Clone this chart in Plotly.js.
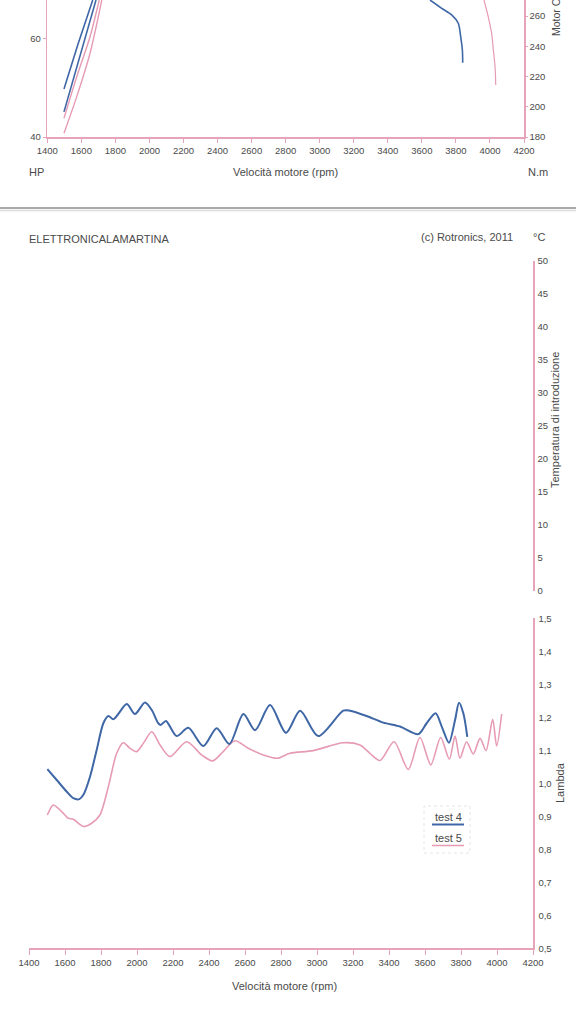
<!DOCTYPE html>
<html>
<head>
<meta charset="utf-8">
<script src="https://cdn.plot.ly/plotly-3.0.1.min.js"></script>
<style>html,body{margin:0;padding:0;background:#fff;}#chart{width:576px;height:1024px;}</style>
</head>
<body>
<div id="chart"></div>
<script>
// ---------- DATA ----------
// Top chart (power HP left axis, torque N.m right axis)
const rpmT4TorqueLow = [1498, 1582, 1667];
const t4TorqueLow = [211.8, 242.0, 270.7];
const rpmT4TorqueHigh = [3648, 3717, 3775, 3814, 3828, 3838, 3840];
const t4TorqueHigh = [270.7, 265.2, 260.8, 255.3, 246.4, 237.6, 229.2];
const rpmT4Power = [1498, 1592, 1686];
const t4Power = [45.1, 56.6, 67.8];

const rpmT5TorqueLow = [1498, 1573, 1651, 1705];
const t5TorqueLow = [192.4, 219.9, 246.4, 270.7];
const rpmT5TorqueHigh = [3965, 3990, 4010, 4020, 4030, 4034];
const t5TorqueHigh = [270.7, 259.6, 248.6, 237.6, 226.5, 214.4];
const rpmT5Power = [1498, 1573, 1651, 1720];
const t5Power = [40.75, 48.2, 57.0, 67.8];

// Bottom chart (lambda)
const rpmT4Lambda = [1502,1554,1609,1646,1680,1702,1739,1776,1813,1841,1868,1896,1943,1989,2044,2082,2118,2132,2161,2220,2285,2368,2443,2513,2591,2656,2739,2828,2906,3007,3146,3183,3276,3368,3461,3563,3609,3659,3693,3733,3767,3789,3813,3835];
const t4Lambda = [1.043,1.010,0.975,0.955,0.952,0.965,1.020,1.101,1.182,1.204,1.194,1.210,1.240,1.210,1.245,1.222,1.182,1.177,1.189,1.143,1.168,1.113,1.167,1.119,1.210,1.161,1.237,1.153,1.220,1.143,1.220,1.220,1.204,1.184,1.172,1.149,1.182,1.212,1.172,1.123,1.192,1.244,1.212,1.141];

const rpmT5Lambda = [1502,1535,1563,1591,1618,1646,1674,1702,1748,1794,1841,1887,1924,1961,1998,2035,2082,2128,2183,2276,2359,2420,2479,2544,2618,2702,2779,2850,2979,3146,3239,3294,3350,3428,3507,3572,3632,3687,3735,3767,3794,3831,3868,3906,3939,3976,3998,4026];
const t5Lambda = [0.904,0.934,0.924,0.909,0.894,0.891,0.879,0.869,0.879,0.904,0.990,1.091,1.123,1.106,1.096,1.121,1.156,1.116,1.081,1.126,1.086,1.068,1.096,1.129,1.106,1.086,1.076,1.091,1.099,1.123,1.116,1.091,1.069,1.126,1.042,1.139,1.056,1.139,1.073,1.143,1.076,1.126,1.089,1.136,1.099,1.194,1.113,1.210];

// Tick labels
const rpmTicks = [1400,1600,1800,2000,2200,2400,2600,2800,3000,3200,3400,3600,3800,4000,4200];
const hpTicks = [40, 60];
const nmTicks = [180, 200, 220, 240, 260];
const tempTicks = [0,5,10,15,20,25,30,35,40,45,50];
const lambdaTicks = [0.5,0.6,0.7,0.8,0.9,1.0,1.1,1.2,1.3,1.4,1.5];
const lambdaTickText = ["0,5","0,6","0,7","0,8","0,9","1,0","1,1","1,2","1,3","1,4","1,5"];
const seriesNames = ["test 4", "test 5"];

// ---------- STYLE ----------
const BLUE = '#3f67a6';
const PINK = '#e69bb3';
const AXIS = '#e7a3b7';
const TXT = '#4a4a4a';
const FONT = 'Liberation Sans, Arial, sans-serif';

function line(x, y, xa, ya, color, w, name, shape) {
  return {x: x, y: y, xaxis: xa, yaxis: ya, type: 'scatter', mode: 'lines', name: name,
          line: {color: color, width: w, shape: shape || 'spline', smoothing: 0.8}, hoverinfo: 'skip'};
}

const traces = [
  line(rpmT4Power, t4Power, 'x', 'y', BLUE, 1.6, seriesNames[0], 'linear'),
  line(rpmT4TorqueLow, t4TorqueLow, 'x', 'y2', BLUE, 1.6, seriesNames[0], 'linear'),
  line(rpmT4TorqueHigh, t4TorqueHigh, 'x', 'y2', BLUE, 1.6, seriesNames[0]),
  line(rpmT5Power, t5Power, 'x', 'y', PINK, 1.4, seriesNames[1]),
  line(rpmT5TorqueLow, t5TorqueLow, 'x', 'y2', PINK, 1.4, seriesNames[1]),
  line(rpmT5TorqueHigh, t5TorqueHigh, 'x', 'y2', PINK, 1.2, seriesNames[1]),
  line(rpmT5Lambda, t5Lambda, 'x2', 'y3', PINK, 1.6, seriesNames[1]),
  line(rpmT4Lambda, t4Lambda, 'x2', 'y3', BLUE, 2, seriesNames[0]),
  {x: [], y: [], xaxis: 'x2', yaxis: 'y4', type: 'scatter', mode: 'lines', showlegend: false}
];

const tickFont = {family: FONT, size: 9.5, color: TXT};
const baseAxis = {showgrid: false, zeroline: false, showline: true, linecolor: AXIS, linewidth: 1.5,
                  ticks: 'outside', ticklen: 4, tickcolor: AXIS, tickwidth: 1, tickfont: tickFont, fixedrange: true};

const py = p => 1 - p / 1024;
const px = p => p / 576;

const layout = {
  width: 576, height: 1024,
  margin: {l: 0, r: 0, t: 0, b: 0},
  paper_bgcolor: '#ffffff', plot_bgcolor: 'rgba(0,0,0,0)',
  showlegend: false,
  font: {family: FONT, color: TXT},
  xaxis: Object.assign({}, baseAxis, {domain: [px(47.3), px(524)], range: [1400, 4200], anchor: 'y',
         tickmode: 'array', tickvals: rpmTicks, ticktext: rpmTicks.map(String)}),
  yaxis: Object.assign({}, baseAxis, {domain: [py(137), 1], range: [40, 67.82], anchor: 'x', side: 'left',
         tickmode: 'array', tickvals: hpTicks, ticklen: 3}),
  yaxis2: Object.assign({}, baseAxis, {overlaying: 'y', range: [180, 270.7], anchor: 'x', side: 'right',
         tickmode: 'array', tickvals: nmTicks, ticklen: 2}),
  xaxis2: Object.assign({}, baseAxis, {domain: [px(29), px(533)], range: [1400, 4200], anchor: 'y3',
         tickmode: 'array', tickvals: rpmTicks, ticktext: rpmTicks.map(String), ticklen: 5}),
  yaxis3: Object.assign({}, baseAxis, {domain: [py(948.3), py(618.3)], range: [0.5, 1.5], anchor: 'x2', side: 'right',
         tickmode: 'array', tickvals: lambdaTicks, ticktext: lambdaTickText, ticks: '', ticklabelstandoff: 2}),
  yaxis4: Object.assign({}, baseAxis, {domain: [py(591), py(261)], range: [0, 50], anchor: 'x2', side: 'right',
         tickmode: 'array', tickvals: tempTicks, ticks: '', ticklabelstandoff: 1}),
  shapes: [
    {type: 'line', xref: 'paper', yref: 'paper', x0: 0, x1: 1, y0: py(208), y1: py(208), line: {color: '#a9a9a9', width: 2}},
    {type: 'line', xref: 'paper', yref: 'paper', x0: 0, x1: 1, y0: py(210.5), y1: py(210.5), line: {color: '#dcdcdc', width: 1.5}},
    {type: 'rect', xref: 'paper', yref: 'paper', x0: px(424), x1: px(470), y0: py(853), y1: py(806), line: {color: '#e4e4e4', width: 1, dash: 'dot'}},
    {type: 'line', xref: 'paper', yref: 'paper', x0: px(432), x1: px(464), y0: py(824.5), y1: py(824.5), line: {color: BLUE, width: 2}},
    {type: 'line', xref: 'paper', yref: 'paper', x0: px(432), x1: px(464), y0: py(845.5), y1: py(845.5), line: {color: PINK, width: 1.5}}
  ],
  annotations: [
    {text: 'HP', x: px(27), y: py(172), xanchor: 'left', yanchor: 'middle'},
    {text: 'Velocità motore (rpm)', x: px(285), y: py(172), xanchor: 'center', yanchor: 'middle'},
    {text: 'N.m', x: px(526), y: py(172), xanchor: 'left', yanchor: 'middle'},
    {text: 'Motor C', x: px(556), y: py(38), xanchor: 'center', yanchor: 'bottom', textangle: -90, font: {family: FONT, size: 10.5, color: TXT}},
    {text: 'ELETTRONICALAMARTINA', x: px(27), y: py(239), xanchor: 'left', yanchor: 'middle'},
    {text: '(c) Rotronics, 2011', x: px(515), y: py(237), xanchor: 'right', yanchor: 'middle'},
    {text: '°C', x: px(539), y: py(237), xanchor: 'center', yanchor: 'middle'},
    {text: 'Temperatura di introduzione', x: px(555), y: py(420), xanchor: 'center', yanchor: 'middle', textangle: -90},
    {text: 'Lambda', x: px(560), y: py(783), xanchor: 'center', yanchor: 'middle', textangle: -90},
    {text: 'Velocità motore (rpm)', x: px(284), y: py(986), xanchor: 'center', yanchor: 'middle'},
    {text: seriesNames[0], x: px(448), y: py(817), xanchor: 'center', yanchor: 'middle'},
    {text: seriesNames[1], x: px(448), y: py(838), xanchor: 'center', yanchor: 'middle'}
  ].map(a => Object.assign({xref: 'paper', yref: 'paper', showarrow: false,
                            font: {family: FONT, size: 11, color: TXT}}, a))
};

Plotly.newPlot('chart', traces, layout, {staticPlot: true, displayModeBar: false});
</script>
</body>
</html>
